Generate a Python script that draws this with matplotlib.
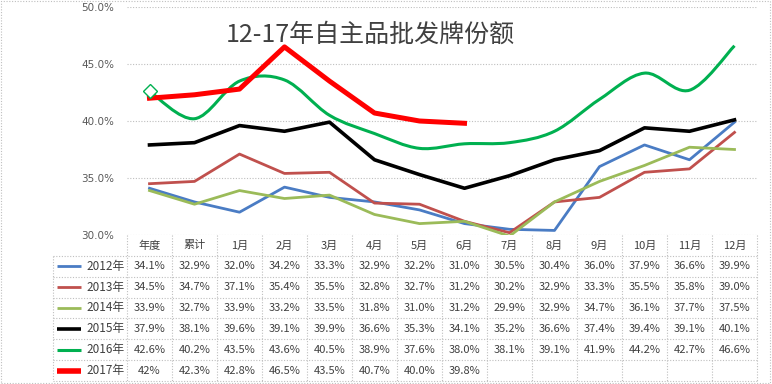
import matplotlib
matplotlib.use("Agg")
import matplotlib.pyplot as plt
import numpy as np
from matplotlib.path import Path
from matplotlib.patches import PathPatch, Rectangle

plt.rcParams["font.family"] = ["Noto Sans CJK SC", "DejaVu Sans"]

title = "12-17年自主品批发牌份额"
columns = ["年度", "累计", "1月", "2月", "3月", "4月", "5月", "6月",
           "7月", "8月", "9月", "10月", "11月", "12月"]
series_names = ["2012年", "2013年", "2014年", "2015年", "2016年", "2017年"]

y2012 = [34.1, 32.9, 32.0, 34.2, 33.3, 32.9, 32.2, 31.0, 30.5, 30.4, 36.0, 37.9, 36.6, 39.9]
y2013 = [34.5, 34.7, 37.1, 35.4, 35.5, 32.8, 32.7, 31.2, 30.2, 32.9, 33.3, 35.5, 35.8, 39.0]
y2014 = [33.9, 32.7, 33.9, 33.2, 33.5, 31.8, 31.0, 31.2, 29.9, 32.9, 34.7, 36.1, 37.7, 37.5]
y2015 = [37.9, 38.1, 39.6, 39.1, 39.9, 36.6, 35.3, 34.1, 35.2, 36.6, 37.4, 39.4, 39.1, 40.1]
y2016 = [42.6, 40.2, 43.5, 43.6, 40.5, 38.9, 37.6, 38.0, 38.1, 39.1, 41.9, 44.2, 42.7, 46.6]
y2017 = [42.0, 42.3, 42.8, 46.5, 43.5, 40.7, 40.0, 39.8]
labels2017 = ["42%", "42.3%", "42.8%", "46.5%", "43.5%", "40.7%", "40.0%", "39.8%"]

all_series = [y2012, y2013, y2014, y2015, y2016, y2017]
colors = ["#4A7CC4", "#C0504D", "#9BBB59", "#000000", "#00B050", "#FF0000"]
widths = [2.0, 2.0, 2.0, 2.6, 2.2, 3.6]
smooth = [False, False, False, False, True, False]

W, H = 772, 384
fig = plt.figure(figsize=(W / 100, H / 100), dpi=100)

x0, x1 = 127, 757
ytop, ybot, tbot = 7, 235, 381
ax = fig.add_axes([x0 / W, (H - ybot) / H, (x1 - x0) / W, (ybot - ytop) / H])
n = len(columns)
ax.set_xlim(-0.5, n - 0.5)
ax.set_ylim(30, 50)
ax.set_yticks([30, 35, 40, 45, 50])
ax.set_yticklabels([f"{v:.1f}%" for v in [30, 35, 40, 45, 50]],
                   fontsize=7.5, color="#595959", family=["DejaVu Sans"])
ax.tick_params(axis="y", length=0, pad=9)
ax.set_xticks([])
for s in ax.spines.values():
    s.set_visible(False)
ax.grid(axis="y", color="#BFBFBF", linestyle=(0, (1, 1.5)), linewidth=0.8)
ax.set_axisbelow(True)


def bezier_path(xs, ys):
    # Excel-style smoothed line: cubic Bezier through every data point
    pts = np.column_stack([xs, ys])
    verts = [pts[0]]
    codes = [Path.MOVETO]
    for i in range(len(pts) - 1):
        p0 = pts[i - 1] if i > 0 else pts[i]
        p1, p2 = pts[i], pts[i + 1]
        p3 = pts[i + 2] if i + 2 < len(pts) else pts[i + 1]
        verts += [p1 + (p2 - p0) / 6, p2 - (p3 - p1) / 6, p2]
        codes += [Path.CURVE4] * 3
    return Path(verts, codes)


for ys, c, lw, sm in zip(all_series, colors, widths, smooth):
    xs = np.arange(len(ys))
    if sm:
        ax.add_patch(PathPatch(bezier_path(xs, ys), facecolor="none",
                               edgecolor=c, linewidth=lw, zorder=3))
    else:
        ax.plot(xs, ys, color=c, linewidth=lw, solid_joinstyle="round", zorder=4)

ax.plot([0], [y2016[0]], marker="D", markersize=7, markerfacecolor="white",
        markeredgecolor="#00B050", markeredgewidth=1.0, zorder=5)

fig.text(370 / W, 1 - 35 / H, title, fontsize=18, color="#404040",
         ha="center", va="center")

# data table
tax = fig.add_axes([x0 / W, (H - tbot) / H, (x1 - x0) / W, (tbot - ybot) / H])
tax.set_xlim(-0.5, n - 0.5)
nrows = len(series_names) + 1
tax.set_ylim(nrows, 0)
tax.axis("off")
grid_kw = dict(color="#BFBFBF", linestyle=(0, (1, 1.5)), linewidth=0.8, clip_on=False)
left_x = -0.5 - (x0 - 53) / ((x1 - x0) / n)
for j in range(n + 1):
    tax.plot([j - 0.5, j - 0.5], [0, nrows], **grid_kw)
tax.plot([left_x, left_x], [1, nrows], **grid_kw)
for r in range(1, nrows + 1):
    tax.plot([left_x, n - 0.5], [r, r], **grid_kw)

txt_kw = dict(ha="center", va="center", fontsize=8, color="#404040")
for j, col in enumerate(columns):
    tax.text(j, 0.5, col, **txt_kw)
for i, (name, ys, c) in enumerate(zip(series_names, all_series, colors)):
    r = i + 1.5
    tax.plot([left_x + 0.08, left_x + 0.63], [r, r], color=c,
             linewidth=widths[i] if i < 5 else 4.0, clip_on=False,
             solid_capstyle="butt")
    tax.text(-0.55, r, name, ha="right", va="center", fontsize=8.5, color="#404040")
    for j, v in enumerate(ys):
        label = labels2017[j] if name == "2017年" else f"{v:.1f}%"
        tax.text(j, r, label, **txt_kw)

fig.add_artist(Rectangle((0.001, 0.002), 0.997, 0.996, transform=fig.transFigure,
                         fill=False, edgecolor="#BFBFBF", linewidth=0.8,
                         linestyle=(0, (1, 1.5))))

fig.savefig("out.png", dpi=100)
